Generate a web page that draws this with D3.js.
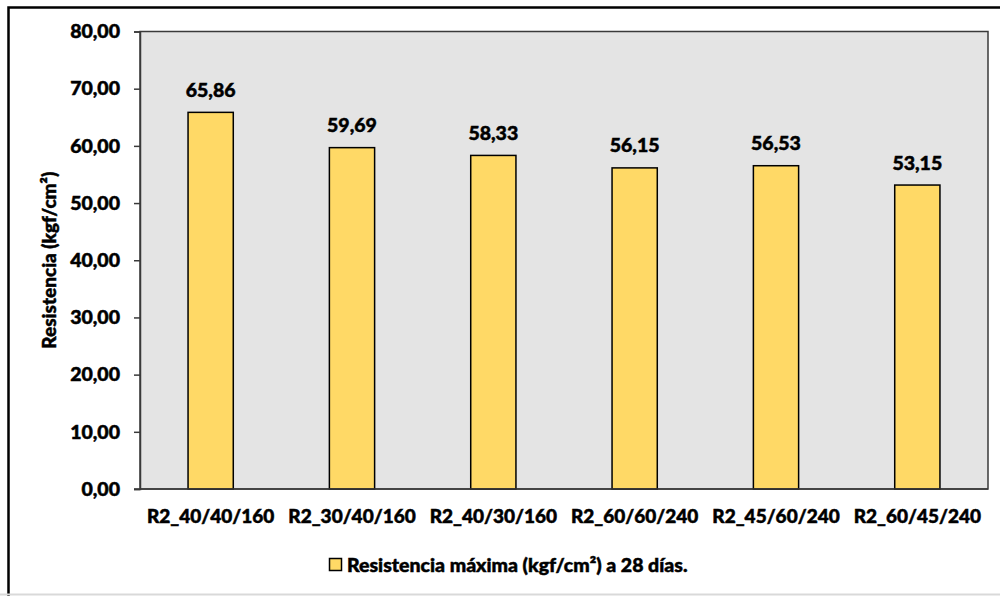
<!DOCTYPE html>
<html>
<head>
<meta charset="utf-8">
<script src="https://cdn.jsdelivr.net/npm/d3@7"></script>
<style>
  html, body { margin: 0; padding: 0; background: #fff; }
  svg { display: block; }
  text {
    font-family: Lato, "Open Sans", sans-serif; font-weight: 900; fill: #000;
    stroke: #000; stroke-width: 0.5px; paint-order: stroke;
  }
</style>
</head>
<body>
<svg id="chart" width="1000" height="596"></svg>
<script>
// Categories and measured values
const categories = ["R2_40/40/160", "R2_30/40/160", "R2_40/30/160", "R2_60/60/240", "R2_45/60/240", "R2_60/45/240"];
const resistance = [65.86, 59.69, 58.33, 56.15, 56.53, 53.15];
const yTicks = [0, 10, 20, 30, 40, 50, 60, 70, 80];
const seriesName = "Resistencia máxima (kgf/cm²) a 28 días.";
const yTitle = "Resistencia (kgf/cm²)";

const svg = d3.select("#chart");
const fmt = v => d3.format(".2f")(v).replace(".", ",");

const plot = { left: 140, right: 988, top: 31.5, bottom: 489 };

// Outer frame
svg.append("rect")
  .attr("x", 8.5).attr("y", 7.5)
  .attr("width", 1010).attr("height", 600)
  .attr("fill", "none").attr("stroke", "#000").attr("stroke-width", 2.5);
svg.append("line")
  .attr("x1", 0).attr("x2", 1000).attr("y1", 594.5).attr("y2", 594.5)
  .attr("stroke", "#d9d9d9").attr("stroke-width", 2);

const x = d3.scaleBand()
  .domain(categories)
  .range([plot.left, plot.right])
  .paddingInner(0.68).paddingOuter(0.34);

const y = d3.scaleLinear()
  .domain([0, 80])
  .range([plot.bottom, plot.top]);

// Plot area
svg.append("rect")
  .attr("x", plot.left).attr("y", plot.top)
  .attr("width", plot.right - plot.left).attr("height", plot.bottom - plot.top)
  .attr("fill", "#e4e4e4").attr("stroke", "#3a3a3a").attr("stroke-width", 1.5);

// Bars
svg.append("g").selectAll("rect")
  .data(resistance)
  .join("rect")
  .attr("x", (d, i) => x(categories[i]))
  .attr("y", d => y(d))
  .attr("width", x.bandwidth())
  .attr("height", d => y(0) - y(d))
  .attr("fill", "#ffd966")
  .attr("stroke", "#000")
  .attr("stroke-width", 1.5);

// Value labels
svg.append("g").selectAll("text")
  .data(resistance)
  .join("text")
  .attr("x", (d, i) => x(categories[i]) + x.bandwidth() / 2)
  .attr("y", d => y(d) - 15.5)
  .attr("text-anchor", "middle")
  .style("font-size", "19.5px")
  .text(d => fmt(d));

// Y axis
const yAxis = d3.axisLeft(y)
  .tickValues(yTicks)
  .tickSize(6)
  .tickPadding(14)
  .tickFormat(fmt);
const gy = svg.append("g")
  .attr("transform", `translate(${plot.left},0)`)
  .call(yAxis);
gy.select(".domain").attr("stroke", "#3a3a3a").attr("stroke-width", 1.5);
gy.selectAll(".tick line").attr("stroke", "#3a3a3a").attr("stroke-width", 1.5);
gy.selectAll(".tick text")
  .style("font-size", "19.5px")
  .style("font-family", "Lato, sans-serif")
  .style("font-weight", "900")
  .attr("fill", "#000");

// X axis
const xAxis = d3.axisBottom(x).tickSize(0).tickPadding(21);
const gx = svg.append("g")
  .attr("transform", `translate(0,${plot.bottom})`)
  .call(xAxis);
gx.select(".domain")
  .attr("d", `M${plot.left - 6},0H${plot.right}`)
  .attr("stroke", "#3a3a3a").attr("stroke-width", 1.5);
gx.selectAll(".tick text")
  .style("font-size", "19px")
  .style("font-family", "Lato, sans-serif")
  .style("font-weight", "900")
  .attr("fill", "#000");

// Y axis title
svg.append("text")
  .attr("transform", `translate(56,${(plot.top + plot.bottom) / 2}) rotate(-90)`)
  .attr("text-anchor", "middle")
  .style("font-size", "19px")
  .text(yTitle);

// Legend
const lg = svg.append("g").attr("transform", "translate(329,558)");
lg.append("rect")
  .attr("x", 0.5).attr("y", 0.5)
  .attr("width", 12).attr("height", 12)
  .attr("fill", "#ffd966").attr("stroke", "#000").attr("stroke-width", 1.5);
lg.append("text")
  .attr("x", 18).attr("y", 13.5)
  .style("font-size", "19.5px")
  .text(seriesName);
</script>
</body>
</html>
